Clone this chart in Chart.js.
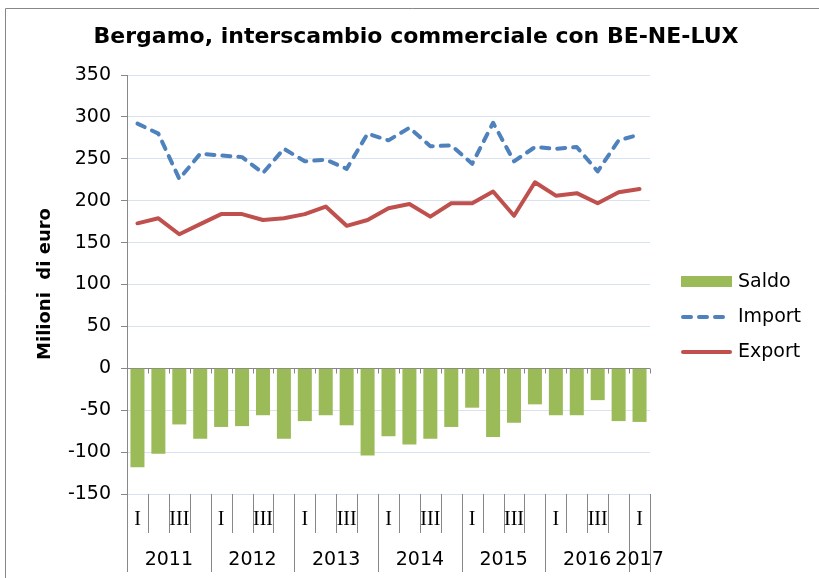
<!DOCTYPE html>
<html>
<head>
<meta charset="utf-8">
<script src="https://cdn.jsdelivr.net/npm/chart.js@4/dist/chart.umd.min.js"></script>
<style>
  html, body { margin: 0; padding: 0; background: #fff; }
  #wrap { width: 819px; height: 578px; }
</style>
</head>
<body>
<div id="wrap"><canvas id="chart" width="819" height="578"></canvas></div>
<script>
// quarterly data, 2011 Q1 .. 2017 Q1
const quarters = ['I','II','III','IV','I','II','III','IV','I','II','III','IV','I','II','III','IV',
                  'I','II','III','IV','I','II','III','IV','I'];
const years = ['2011','2012','2013','2014','2015','2016','2017'];
const saldo = [-118, -102, -67, -84, -70, -69, -56, -84, -63, -56, -68, -104, -81, -91, -84, -70,
               -47, -82, -65, -43, -56, -56, -38, -63, -64];
const importVals = [292, 280, 226, 256, 254, 252, 233, 262, 247, 249, 238, 280, 272, 287, 265, 266,
                    244, 293, 247, 264, 262, 264, 235, 272, 279];
const exportVals = [173, 179, 160, 172, 184, 184, 177, 179, 184, 193, 170, 177, 191, 196, 181, 197,
                    197, 211, 182, 222, 206, 209, 197, 210, 214];
const yTicks = [-150, -100, -50, 0, 50, 100, 150, 200, 250, 300, 350];

const labels = quarters.map((q, i) => q + ' ' + years[Math.floor(i / 4)]);

const GREEN = '#9bbb59', BLUE = '#4f81bd', RED = '#c0504d';
const AXIS = '#878787', GRID = '#d9e2f1';
const SANS = '"DejaVu Sans", Verdana, sans-serif';

const decorations = {
  id: 'decorations',
  beforeDraw(chart) {
    const ctx = chart.ctx;
    ctx.save();
    ctx.fillStyle = '#fff';
    ctx.fillRect(0, 0, chart.width, chart.height);
    // outer frame
    ctx.strokeStyle = AXIS;
    ctx.lineWidth = 1;
    ctx.beginPath();
    ctx.moveTo(5.5, chart.height);
    ctx.lineTo(5.5, 8.5);
    ctx.lineTo(chart.width, 8.5);
    ctx.stroke();
    ctx.restore();
  },
  afterDraw(chart) {
    const ctx = chart.ctx;
    const x = chart.scales.x;
    const y = chart.scales.y;
    const area = chart.chartArea;
    const n = labels.length;
    const w = (area.right - area.left) / n;
    const y0 = Math.round(y.getPixelForValue(0)) + 0.5;
    ctx.save();

    // title
    ctx.fillStyle = '#000';
    ctx.font = 'bold 22px ' + SANS;
    ctx.textAlign = 'center';
    ctx.textBaseline = 'middle';
    ctx.fillText('Bergamo, interscambio commerciale con BE-NE-LUX', 416, 37);

    // y axis title
    ctx.save();
    ctx.translate(45, 284);
    ctx.rotate(-Math.PI / 2);
    ctx.font = 'bold 18px ' + SANS;
    ctx.fillText('Milioni  di euro', 0, 0);
    ctx.restore();

    // ticks on the zero line
    ctx.strokeStyle = AXIS;
    ctx.lineWidth = 1;
    ctx.beginPath();
    for (let k = 0; k <= n; k++) {
      const bx = Math.round(area.left + k * w) + 0.5;
      ctx.moveTo(bx, y0);
      ctx.lineTo(bx, y0 + 5);
    }
    ctx.stroke();

    // category separators under the plot
    const top = area.bottom;
    ctx.beginPath();
    for (let k = 0; k <= n; k++) {
      const bx = Math.round(area.left + k * w) + 0.5;
      const yearEdge = (k % 4 === 0) || k === n;
      ctx.moveTo(bx, top);
      ctx.lineTo(bx, yearEdge ? 572 : 533);
    }
    ctx.stroke();

    // quarter labels (every other one, as in the source)
    ctx.fillStyle = '#000';
    ctx.font = '20px "Liberation Serif", "Times New Roman", serif';
    quarters.forEach((q, i) => {
      if (i % 2 === 0) ctx.fillText(q, x.getPixelForValue(i), 520);
    });

    // year labels
    ctx.font = '19px ' + SANS;
    years.forEach((yr, j) => {
      const first = j * 4;
      const last = Math.min(first + 3, n - 1);
      const cx = (x.getPixelForValue(first) + x.getPixelForValue(last)) / 2;
      ctx.fillText(yr, cx, 560);
    });

    // legend
    ctx.textAlign = 'left';
    ctx.font = '19px ' + SANS;
    ctx.fillStyle = GREEN;
    ctx.fillRect(681, 276, 51, 11);
    ctx.lineWidth = 4;
    ctx.lineCap = 'round';
    ctx.strokeStyle = BLUE;
    ctx.setLineDash([8, 8]);
    ctx.beginPath();
    ctx.moveTo(683, 317);
    ctx.lineTo(730, 317);
    ctx.stroke();
    ctx.setLineDash([]);
    ctx.strokeStyle = RED;
    ctx.beginPath();
    ctx.moveTo(683, 352);
    ctx.lineTo(730, 352);
    ctx.stroke();
    ctx.fillStyle = '#000';
    ctx.fillText('Saldo', 738, 282);
    ctx.fillText('Import', 738, 317);
    ctx.fillText('Export', 738, 352);

    ctx.restore();
  }
};

new Chart(document.getElementById('chart'), {
  type: 'bar',
  data: {
    labels: labels,
    datasets: [
      {
        label: 'Saldo',
        data: saldo,
        backgroundColor: GREEN,
        barPercentage: 0.67,
        categoryPercentage: 1.0
      },
      {
        type: 'line',
        label: 'Import',
        data: importVals,
        borderColor: BLUE,
        borderWidth: 4,
        borderDash: [8, 8],
        borderCapStyle: 'round',
        borderJoinStyle: 'round',
        pointRadius: 0,
        tension: 0,
        fill: false
      },
      {
        type: 'line',
        label: 'Export',
        data: exportVals,
        borderColor: RED,
        borderWidth: 4,
        borderCapStyle: 'round',
        borderJoinStyle: 'round',
        pointRadius: 0,
        tension: 0,
        fill: false
      }
    ]
  },
  options: {
    responsive: false,
    animation: false,
    layout: { padding: { left: 0, top: 75, right: 169, bottom: 84 } },
    plugins: {
      legend: { display: false },
      title: { display: false },
      tooltip: { enabled: false }
    },
    scales: {
      x: {
        ticks: { display: false },
        grid: { display: false, drawTicks: false },
        border: { display: false },
        afterFit: (scale) => { scale.height = 0; }
      },
      y: {
        min: -150,
        max: 350,
        afterBuildTicks: (scale) => { scale.ticks = yTicks.map(v => ({ value: v })); },
        afterFit: (scale) => { scale.width = 127; },
        ticks: {
          color: '#000',
          padding: 10,
          font: { family: SANS, size: 19 }
        },
        grid: {
          color: (c) => c.tick && c.tick.value === 0 ? AXIS : GRID,
          tickColor: AXIS,
          tickLength: 6,
          lineWidth: 1
        },
        border: { color: AXIS, width: 1 }
      }
    }
  },
  plugins: [decorations]
});
</script>
</body>
</html>
